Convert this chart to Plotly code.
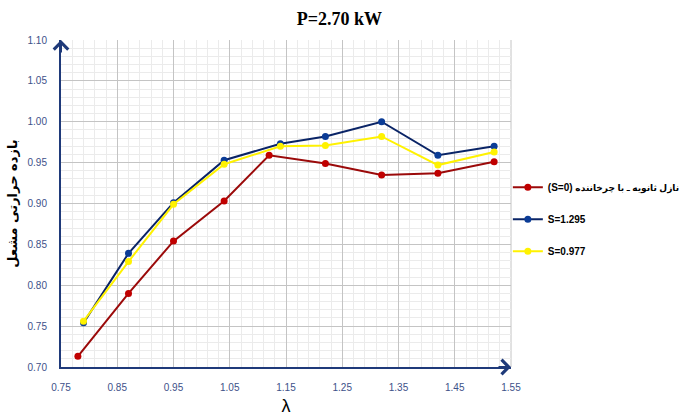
import plotly.graph_objects as go

# Burner thermal efficiency vs. excess-air ratio (lambda) at P = 2.70 kW
series_names = [
    "<b>(S=0) </b><span style='font-size:9px'><b>نازل ثانویه ـ با چرخاننده</b></span>",
    "<b>S=1.295</b>",
    "<b>S=0.977</b>",
]

lam_s0 = [0.78, 0.87, 0.95, 1.04, 1.12, 1.22, 1.32, 1.42, 1.52]
eff_s0 = [0.713, 0.790, 0.854, 0.903, 0.959, 0.949, 0.935, 0.937, 0.951]

lam_s1295 = [0.79, 0.87, 0.95, 1.04, 1.14, 1.22, 1.32, 1.42, 1.52]
eff_s1295 = [0.754, 0.839, 0.901, 0.953, 0.973, 0.982, 1.000, 0.959, 0.970]

lam_s0977 = [0.79, 0.87, 0.95, 1.04, 1.14, 1.22, 1.32, 1.42, 1.52]
eff_s0977 = [0.756, 0.829, 0.899, 0.948, 0.970, 0.971, 0.982, 0.947, 0.963]

line_colors = ["#9B0A0A", "#0A2466", "#FFF200"]
marker_colors = ["#C00000", "#0B3C96", "#FFF200"]

x_range = [0.75, 1.55]
y_range = [0.70, 1.10]

AXIS_COLOR = "#1F3A7A"
TICK_COLOR = "#3D5189"

fig = go.Figure()
for i, (xs, ys) in enumerate([(lam_s0, eff_s0), (lam_s1295, eff_s1295), (lam_s0977, eff_s0977)]):
    fig.add_trace(go.Scatter(
        x=xs, y=ys, name=series_names[i], mode="lines+markers",
        legendgroup=f"g{i}",
        line=dict(color=line_colors[i], width=2),
        marker=dict(color=marker_colors[i], size=7),
    ))

fig.update_layout(
    width=679, height=416,
    margin=dict(l=61, r=168, t=40, b=49, autoexpand=False),
    paper_bgcolor="white", plot_bgcolor="white",
    title=dict(text="<b>P=2.70 kW</b>", x=0.5, xref="container", xanchor="center",
               y=1 - 19 / 416, yref="container", yanchor="middle",
               font=dict(family="Liberation Serif", size=18, color="black")),
    font=dict(family="Liberation Sans, DejaVu Sans", size=10, color="black"),
    legend=dict(x=0.993, xanchor="left", y=0.594, yanchor="top",
                tracegroupgap=13, itemwidth=30, traceorder="grouped",
                font=dict(family="Liberation Sans, DejaVu Sans", size=10, color="black"),
                bgcolor="rgba(0,0,0,0)"),
    showlegend=True,
)

fig.update_xaxes(
    range=x_range, tick0=0.75, dtick=0.1, tickformat=".2f",
    showgrid=True, gridcolor="#C4C4C4", gridwidth=1,
    minor=dict(dtick=0.02, tick0=0.75, showgrid=True, gridcolor="#EBEBEB", gridwidth=1),
    showline=True, linecolor=AXIS_COLOR, linewidth=2, zeroline=False,
    tickfont=dict(color=TICK_COLOR, size=10), ticklabelstandoff=10,
    title=dict(text="λ", font=dict(size=18, color="black"), standoff=8),
)
fig.update_yaxes(
    range=y_range, tick0=0.70, dtick=0.05, tickformat=".2f",
    showgrid=True, gridcolor="#C4C4C4", gridwidth=1,
    minor=dict(dtick=0.01, tick0=0.70, showgrid=True, gridcolor="#EBEBEB", gridwidth=1),
    showline=True, linecolor=AXIS_COLOR, linewidth=2, zeroline=False,
    tickfont=dict(color=TICK_COLOR, size=10), ticklabelstandoff=10,
    title=dict(text="<b>بازده حرارتی مشعل</b>", font=dict(family="DejaVu Sans", size=13, color="black"), standoff=7),
)

# Right border of the plot area
fig.add_shape(type="line", xref="paper", yref="paper", x0=1, x1=1, y0=0, y1=1,
              line=dict(color="#C4C4C4", width=1), layer="below")

# Arrowheads at the ends of both axes
fig.add_annotation(x=x_range[0], y=y_range[1], xref="x", yref="y", ax=0, ay=14,
                   showarrow=True, arrowhead=4, arrowsize=1.4, arrowwidth=2,
                   arrowcolor=AXIS_COLOR, text="")
fig.add_annotation(x=x_range[1], y=y_range[0], xref="x", yref="y", ax=-14, ay=0,
                   showarrow=True, arrowhead=4, arrowsize=1.4, arrowwidth=2,
                   arrowcolor=AXIS_COLOR, text="")

fig.write_html("out.html")
